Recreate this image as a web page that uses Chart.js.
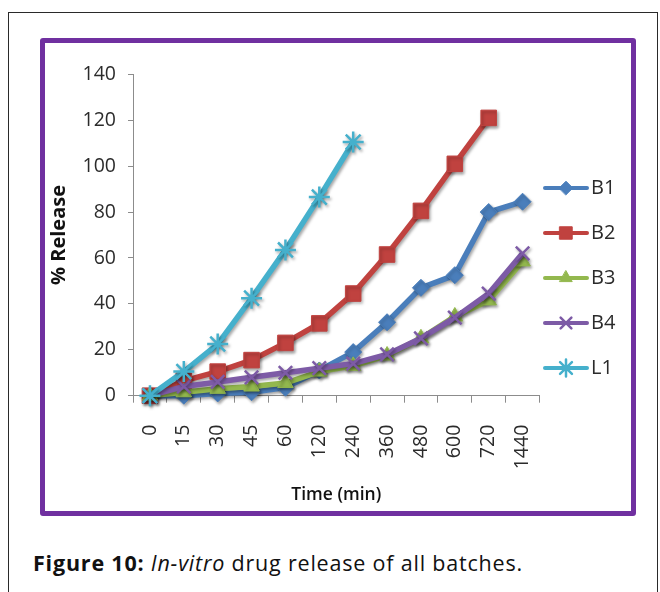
<!DOCTYPE html>
<html>
<head>
<meta charset="utf-8">
<script src="https://cdn.jsdelivr.net/npm/chart.js@4/dist/chart.umd.min.js"></script>
<style>
  html, body { margin: 0; padding: 0; background: #fff; }
  body { width: 660px; height: 592px; position: relative; overflow: hidden; font-family: "Open Sans", sans-serif; }
  #page { position: absolute; left: 8px; top: 12px; width: 648px; height: 600px;
          border: 1.5px solid #2a2a2a; border-bottom: none; }
  #frame { position: absolute; left: 40px; top: 38px; width: 586px; height: 468px;
           border: 5px solid #7030a0; border-radius: 3px; background: #fff; }
  #chart { position: absolute; left: 0; top: 0; }
  #caption { position: absolute; left: 33px; top: 548px; font-size: 21.5px; letter-spacing: 0.8px; color: #111; white-space: nowrap; }
</style>
</head>
<body>
<div id="page"></div>
<div id="frame"><canvas id="chart" width="586" height="468"></canvas></div>
<div id="caption"><b>Figure 10:</b> <i>In-vitro</i> drug release of all batches.</div>
<script>
// Sampling times (min) and cumulative % drug release per batch
const times = ['0', '15', '30', '45', '60', '120', '240', '360', '480', '600', '720', '1440'];
const seriesNames = ['B1', 'B2', 'B3', 'B4', 'L1'];
const b1 = [0, 0, 1, 1.5, 3.5, 11, 19, 32, 47, 52.5, 80, 84.5];
const b2 = [0, 6.5, 10.5, 15.5, 23, 31.5, 44.5, 61.5, 80.5, 101, 121];
const b3 = [0, 1.5, 3, 4, 5.5, 10.5, 13, 17.5, 25, 34.5, 41.5, 58.5];
const b4 = [0, 4, 6, 8, 10, 12, 14, 18, 25, 34, 44.5, 62];
const l1 = [0, 10.5, 22.5, 42.5, 63.5, 86.5, 110.5];
const yTicks = [0, 20, 40, 60, 80, 100, 120, 140];

const colors = ['#4a7ebb', '#c0423f', '#93b84e', '#7d5ba6', '#45b0cc'];
const shapes = ['rectRot', 'rect', 'triangle', 'crossRot', 'star'];
const radii = [8.5, 11, 9, 9.5, 10.5];
const values = [b1, b2, b3, b4, l1];

const datasets = values.map((v, i) => ({
  label: seriesNames[i],
  data: v,
  borderColor: colors[i],
  backgroundColor: colors[i],
  borderWidth: 5.5,
  pointStyle: shapes[i],
  pointRadius: radii[i],
  pointHoverRadius: radii[i],
  pointBorderWidth: (shapes[i] === 'crossRot' || shapes[i] === 'star') ? 2.5 : 1,
  pointBorderColor: colors[i],
  pointBackgroundColor: colors[i],
  tension: 0,
  clip: false,
  order: 5 - i
}));

// Soft drop shadow under lines and markers
const shadowPlugin = {
  id: 'shadow',
  beforeDatasetsDraw(chart) {
    const ctx = chart.ctx;
    ctx.save();
    ctx.shadowColor = 'rgba(0,0,0,0.35)';
    ctx.shadowBlur = 3;
    ctx.shadowOffsetX = 1.5;
    ctx.shadowOffsetY = 2;
  },
  afterDatasetsDraw(chart) {
    chart.ctx.restore();
  }
};

// Legend on the right: line sample with the series marker and its name
const sideLegend = {
  id: 'sideLegend',
  afterDraw(chart) {
    const ctx = chart.ctx;
    const x0 = 500, x1 = 542, tx = 546;
    const yStart = 145, step = 45;
    chart.data.datasets.forEach((ds, i) => {
      const y = yStart + i * step;
      ctx.save();
      ctx.strokeStyle = ds.borderColor;
      ctx.lineWidth = 4;
      ctx.lineCap = 'round';
      ctx.beginPath();
      ctx.moveTo(x0, y);
      ctx.lineTo(x1, y);
      ctx.stroke();
      ctx.fillStyle = ds.backgroundColor;
      ctx.strokeStyle = ds.borderColor;
      ctx.lineWidth = ds.pointBorderWidth;
      Chart.helpers.drawPoint(ctx, { pointStyle: ds.pointStyle, rotation: 0, radius: ds.pointRadius * 0.8, borderWidth: ds.pointBorderWidth }, (x0 + x1) / 2, y);
      ctx.fillStyle = '#2b2b2b';
      ctx.font = '20px "Open Sans"';
      ctx.textBaseline = 'middle';
      ctx.textAlign = 'left';
      ctx.fillText(ds.label, tx, y);
      ctx.restore();
    });
  }
};

new Chart(document.getElementById('chart'), {
  type: 'line',
  data: { labels: times, datasets },
  plugins: [shadowPlugin, sideLegend],
  options: {
    responsive: false,
    animation: false,
    events: [],
    layout: { padding: { left: 0, right: 91.5, top: 31.3, bottom: 0 } },
    plugins: { legend: { display: false }, tooltip: { enabled: false } },
    scales: {
      x: {
        type: 'category',
        offset: true,
        grid: { display: true, offset: true, drawOnChartArea: false, drawTicks: true, tickLength: 7, color: '#8c8c8c', lineWidth: 1 },
        border: { display: true, color: '#8c8c8c', width: 1 },
        ticks: { color: '#2b2b2b', font: { family: 'Open Sans', size: 19.5 }, minRotation: 90, maxRotation: 90, padding: 22, autoSkip: false },
        title: { display: true, text: 'Time (min)', color: '#111', font: { family: 'Open Sans', size: 17.5, weight: '600' }, padding: { top: 0, bottom: 5 } },
        afterFit(scale) { scale.height = 115.3; }
      },
      y: {
        min: 0,
        max: 140,
        afterBuildTicks(scale) { scale.ticks = yTicks.map(v => ({ value: v })); },
        grid: { display: true, drawOnChartArea: false, drawTicks: true, tickLength: 5, color: '#8c8c8c' },
        border: { display: true, color: '#8c8c8c', width: 1 },
        ticks: { color: '#2b2b2b', font: { family: 'Open Sans', size: 19.5 }, padding: 12 },
        title: { display: true, text: '% Release', color: '#111', font: { family: 'Open Sans', size: 20, weight: 'bold' }, padding: { top: 2, bottom: 0 } },
        afterFit(scale) { scale.width = 88; }
      }
    }
  }
});
</script>
</body>
</html>
